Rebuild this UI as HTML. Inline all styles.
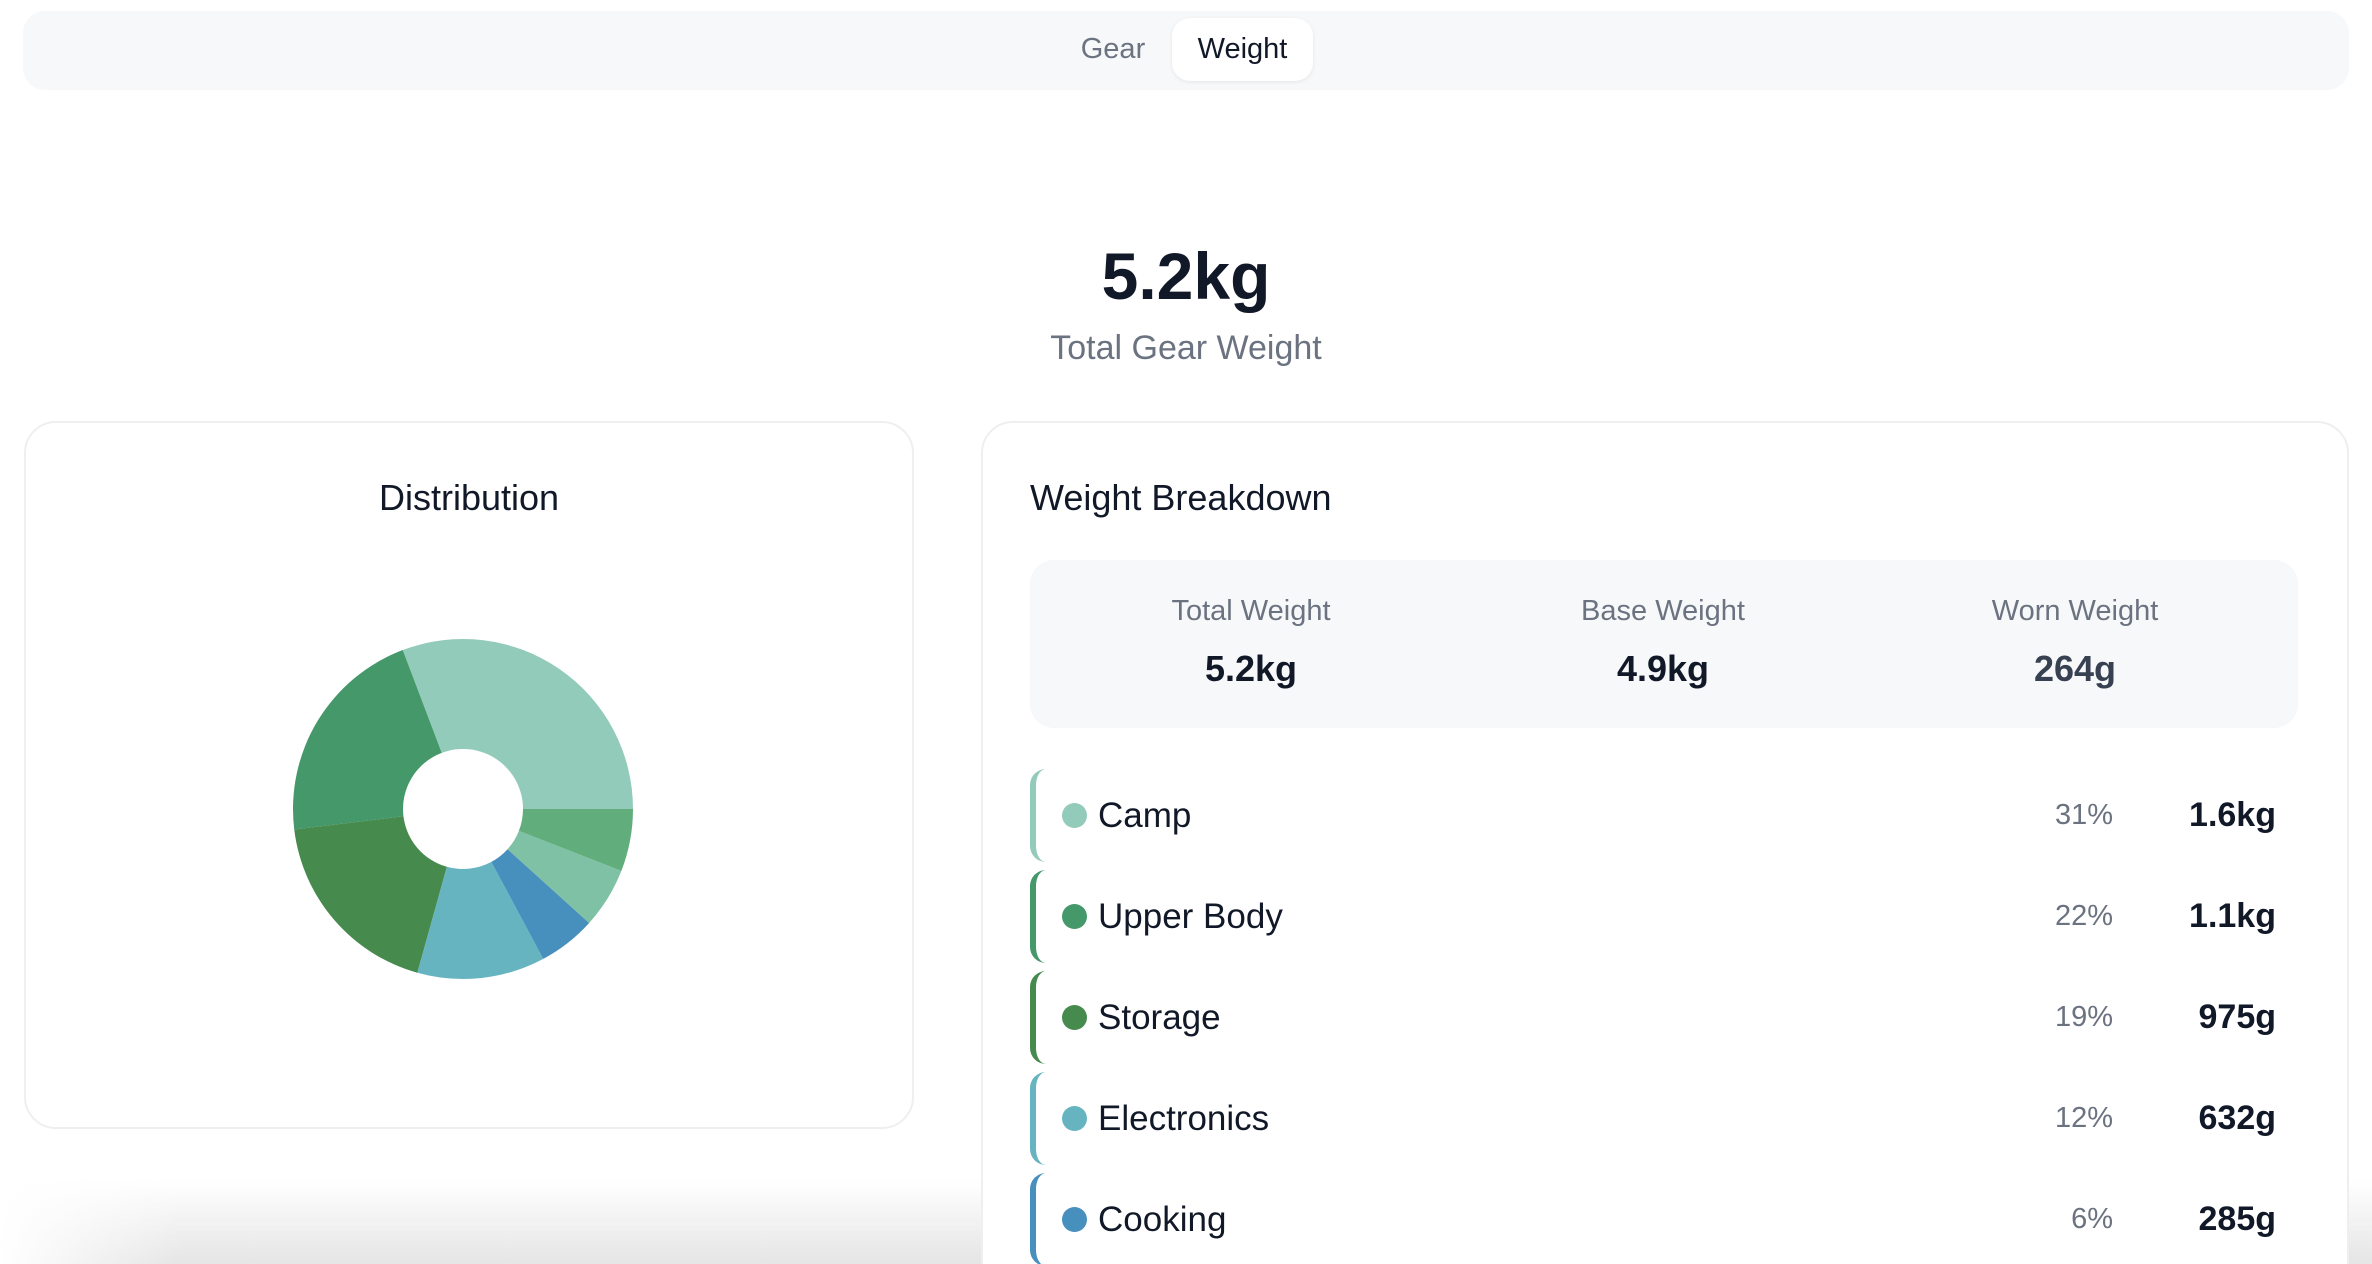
<!DOCTYPE html>
<html style="width:2372px;height:1264px;overflow:hidden"><head><meta charset="utf-8"><style>
*{box-sizing:border-box;margin:0;padding:0}
body{width:2372px;height:1264px;overflow:hidden;background:#fff;font-family:"Liberation Sans",sans-serif;color:#111827;position:relative}
.abs{position:absolute}
#tabbar{left:23px;top:11px;width:2326px;height:79px;background:#f7f8fa;border-radius:22px}
.tab{top:18px;height:63px;line-height:63px;font-size:29px;text-align:center;border-radius:18px}
.card{background:#fff;border:2px solid #eeeff1;border-radius:32px}
.lbl{font-size:29px;color:#6b7280;text-align:center;width:400px}
.val{font-size:36px;font-weight:bold;color:#111827;text-align:center;width:400px}
.row{left:1030px;width:1246px;height:93px;border-left:6px solid;border-radius:16px 0 0 16px}
.dot{position:absolute;left:26px;top:34px;width:25px;height:25px;border-radius:50%}
.name{position:absolute;left:62px;top:0;line-height:93px;font-size:35px;color:#111827}
.pct{position:absolute;right:163px;top:0;line-height:93px;font-size:29px;color:#6b7280}
.wt{position:absolute;right:0;top:0;line-height:93px;font-size:34px;font-weight:bold;color:#111827}
#fade{left:0;top:1180px;width:2372px;height:84px;background:linear-gradient(to bottom,rgba(220,220,220,0),rgba(218,218,218,.7));-webkit-mask-image:linear-gradient(to right,transparent 0,#000 180px);mask-image:linear-gradient(to right,transparent 0,#000 180px)}
</style></head><body>
<div id="fade" class="abs"></div>
<div id="tabbar" class="abs"></div>
<div class="abs tab" style="left:1060px;width:106px;color:#6b7280">Gear</div>
<div class="abs tab" style="left:1172px;width:141px;background:#fff;box-shadow:0 1px 4px rgba(0,0,0,.08);color:#111827">Weight</div>

<div class="abs" style="left:0;width:2372px;top:238px;text-align:center;font-size:66px;font-weight:bold;color:#111827">5.2kg</div>
<div class="abs" style="left:0;width:2372px;top:329px;text-align:center;font-size:34px;color:#6b7280">Total Gear Weight</div>

<div class="abs card" style="left:24px;top:421px;width:890px;height:708px"></div>
<div class="abs" style="left:24px;width:890px;top:477px;text-align:center;font-size:36px;color:#111827">Distribution</div>
<svg id="donut" class="abs" style="left:0;top:0" width="940" height="1130"></svg>

<div class="abs card" style="left:981px;top:421px;width:1368px;height:880px"></div>
<div class="abs" style="left:1030px;top:477px;font-size:36px;color:#111827">Weight Breakdown</div>
<div class="abs" style="left:1030px;top:560px;width:1268px;height:168px;background:#f7f8fa;border-radius:24px"></div>
<div class="abs lbl" style="left:1051px;top:595px">Total Weight</div>
<div class="abs val" style="left:1051px;top:648px">5.2kg</div>
<div class="abs lbl" style="left:1463px;top:595px">Base Weight</div>
<div class="abs val" style="left:1463px;top:648px">4.9kg</div>
<div class="abs lbl" style="left:1875px;top:595px">Worn Weight</div>
<div class="abs val" style="left:1875px;top:648px;color:#374151">264g</div>
<div id="rows"></div>
<script>
const categories=["Camp","Upper Body","Storage","Electronics","Cooking","Lower Body","Other"];
const weights=[1600,1100,975,632,285,300,308];
const weightLabels=["1.6kg","1.1kg","975g","632g","285g","300g","308g"];
const percentLabels=["31%","22%","19%","12%","6%","6%","6%"];
const colors=["#93cbbb","#45986a","#468a4e","#67b4c1","#478fbd","#7fc1a4","#61ad7b"];

const svg=document.getElementById('donut');
const cx=463,cy=809,R=170,r=60;
const total=weights.reduce((a,b)=>a+b,0);
let a0=0;
const NS="http://www.w3.org/2000/svg";
weights.forEach((w,i)=>{
  const a1=a0+w/total*2*Math.PI;
  const p=(rad,a)=>[cx+rad*Math.cos(-a),cy+rad*Math.sin(-a)];
  const [x0,y0]=p(R,a0),[x1,y1]=p(R,a1),[x2,y2]=p(r,a1),[x3,y3]=p(r,a0);
  const large=(a1-a0)>Math.PI?1:0;
  const path=document.createElementNS(NS,'path');
  path.setAttribute('d',`M${x0},${y0}A${R},${R} 0 ${large} 0 ${x1},${y1}L${x2},${y2}A${r},${r} 0 ${large} 1 ${x3},${y3}Z`);
  path.setAttribute('fill',colors[i]);
  
  
  svg.appendChild(path);
  a0=a1;
});

const rows=document.getElementById('rows');
for(let i=0;i<5;i++){
  const d=document.createElement('div');
  d.className='abs row';
  d.style.top=(769+i*101)+'px';
  d.style.borderLeftColor=colors[i];
  
  
  d.innerHTML=`<span class="dot" style="background:${colors[i]}"></span><span class="name">${categories[i]}</span><span class="pct">${percentLabels[i]}</span><span class="wt">${weightLabels[i]}</span>`;
  rows.appendChild(d);
}
</script>
</body></html>
